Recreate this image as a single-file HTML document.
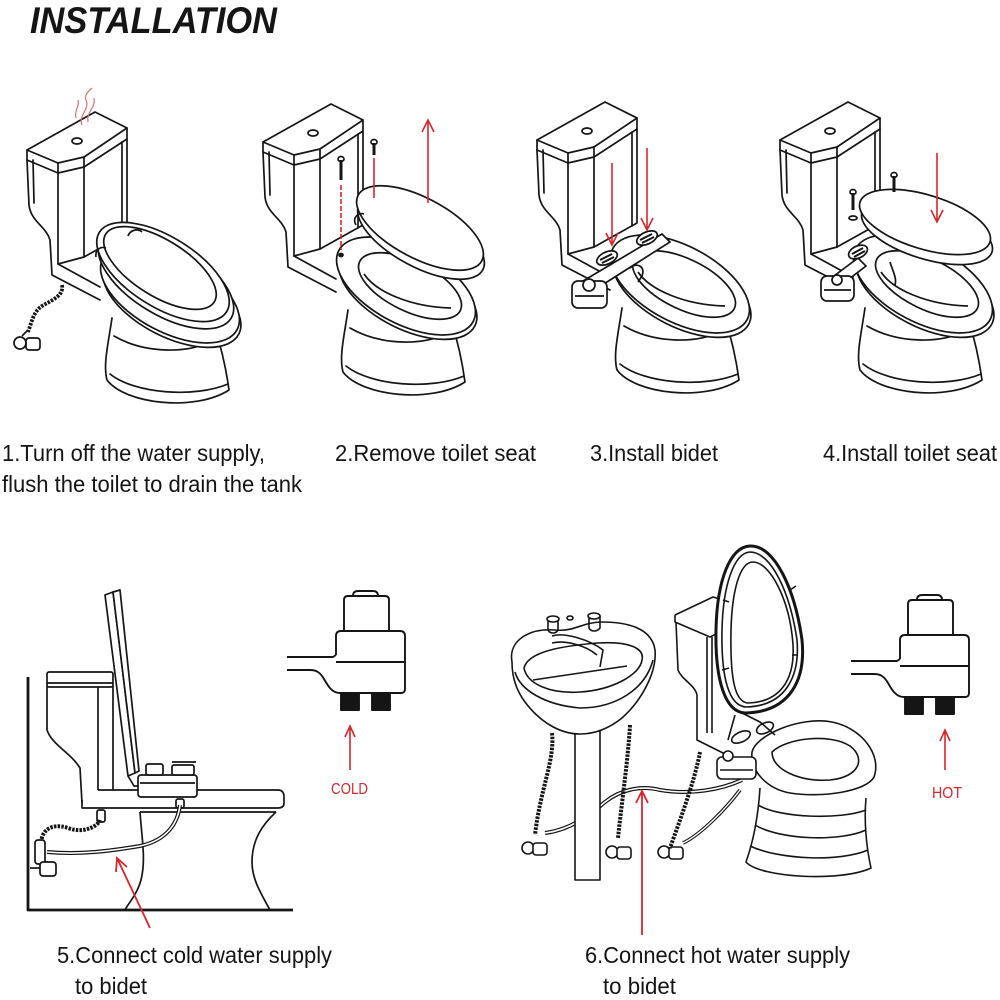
<!DOCTYPE html>
<html><head><meta charset="utf-8">
<style>html,body{margin:0;padding:0;background:#fff}svg{display:block}</style></head>
<body>
<svg width="1000" height="1000" viewBox="0 0 1000 1000" xmlns="http://www.w3.org/2000/svg">
<defs>
<g id="base" fill="none" stroke="#151515" stroke-width="1.7" stroke-linejoin="round" stroke-linecap="round">
  <path d="M112,318 C108,345 103,365 107,380 C125,404 195,412 229,390 C226,368 222,350 215,328" fill="#fff"/>
  <path d="M110,374 C135,394 195,398 228,384"/>
  <path d="M114,336 C145,354 190,354 214,340"/>
  <ellipse cx="172" cy="300" rx="75" ry="37" transform="rotate(27 172 300)" fill="#fff"/>
  <ellipse cx="170" cy="294" rx="76" ry="38" transform="rotate(28 170 294)" fill="#fff"/>
  <path d="M27,160 L29,205 C31,222 46,226 50,240 L52,275 L100,300"/>
  <path d="M33,160 L34,203"/>
  <path d="M58,173 L58,264 L100,287"/>
  <path d="M84,167 L84,257 L58,264"/>
  <path d="M127,139 L127,233 L84,257"/>
  <path d="M122,142 L122,236"/>
  <path d="M27,150 L95,112 L127,128 L84,157 L58,163 Z" fill="#fff"/>
  <path d="M27,150 L27,160 L58,173 L84,167 L127,139 L127,128 M58,163 L58,173 M84,157 L84,167"/>
  <ellipse cx="77" cy="141" rx="5" ry="3"/>
</g>
<g id="openbowl" fill="none" stroke="#151515" stroke-width="1.7">
  <ellipse cx="174" cy="294" rx="56" ry="25" transform="rotate(26 174 294)" fill="#fff"/>
  <path d="M128,282 C140,300 175,315 215,316"/>
</g>
<g id="fixture" fill="none" stroke="#151515" stroke-width="1.9" stroke-linejoin="round">
  <path d="M344,632 L344,600 Q344,596 348,596 L385,596 Q389,596 389,600 L389,632"/>
  <path d="M353,596 Q353,591 358,591 L373,591 Q378,591 378,596"/>
  <path d="M336,655 L336,636 Q336,631 341,631 L400,631 Q405,631 405,636 L405,689 Q405,693 401,693 L340,693 C332,693 328,686 324,679 C320,672 316,670 310,670 L287,670"/>
  <path d="M287,657 L333,657 L336,655"/>
  <path d="M336,662 L405,662"/>
  <rect x="341" y="693" width="18" height="17" fill="#151515"/>
  <rect x="372" y="693" width="18" height="17" fill="#151515"/>
</g>
</defs>

<!-- Title -->
<text x="30" y="33" font-family="Liberation Sans, sans-serif" font-size="37" font-weight="bold" font-style="italic" fill="#151515" textLength="247" lengthAdjust="spacingAndGlyphs">INSTALLATION</text>

<!-- Toilet 1 -->
<use href="#base"/>
<g fill="none" stroke="#151515" stroke-width="1.7">
  <ellipse cx="166" cy="279" rx="76" ry="36" transform="rotate(31 166 279)" fill="#fff"/>
  <ellipse cx="163" cy="272" rx="75" ry="35" transform="rotate(32 163 272)" fill="#fff"/>
  <ellipse cx="160" cy="268" rx="64" ry="28" transform="rotate(32 160 268)"/>
  <path d="M96,257 C95,250 100,246 106,248" />
  <path d="M128,236 C130,230 138,228 142,232"/>
  <path d="M62,285 C64,296 52,300 42,306 C33,312 32,322 28,332" stroke-width="3.8" stroke-dasharray="2.5 1.2"/>
  <circle cx="20" cy="343" r="6"/>
  <rect x="26" y="338" width="14" height="12" rx="3"/>
  <path d="M22,336 L28,330"/>
</g>
<g fill="none" stroke="#e07070" stroke-width="1.2">
  <path d="M82,125 C78,115 90,110 86,100 C84,94 90,90 92,88"/>
  <path d="M88,122 C86,112 96,108 94,98"/>
  <path d="M76,118 C74,110 80,106 78,100"/>
</g>

<!-- Toilet 2 -->
<use href="#base" transform="translate(236,-8)"/>
<use href="#openbowl" transform="translate(236,-8)"/>
<g fill="none" stroke="#151515" stroke-width="1.7">
  <ellipse cx="421" cy="237" rx="70" ry="30" transform="rotate(28 421 237)" fill="#fff"/>
  <ellipse cx="420" cy="228" rx="70" ry="30" transform="rotate(28 420 228)" fill="#fff"/>
  <path d="M356,225 C352,218 358,212 364,214"/>
  <path d="M341,160 L341,180" stroke-width="3"/><ellipse cx="341" cy="159" rx="3" ry="2.5"/>
  <path d="M374,143 L374,155" stroke-width="3"/><ellipse cx="374" cy="142" rx="3" ry="2.5"/>
  <ellipse cx="341" cy="255" rx="2" ry="1.5" fill="#151515"/>
</g>
<g fill="none" stroke="#d8262c" stroke-width="1.6">
  <path d="M341,185 L341,250" stroke-dasharray="5 2"/>
  <path d="M374,158 L374,198"/>
  <path d="M428,203 L428,120 M422,132 L428,120 L434,132"/>
</g>

<!-- Toilet 3 -->
<use href="#base" transform="translate(510,-10)"/>
<use href="#openbowl" transform="translate(510,-10)"/>
<g fill="none" stroke="#151515" stroke-width="1.7">
  <path d="M578,284 L662,234 L670,242 L588,294 Z" fill="#fff"/>
  <ellipse cx="607" cy="258" rx="11" ry="6" transform="rotate(-25 607 258)" fill="#fff"/>
  <path d="M600,260 L612,254 M602,263 L614,257" stroke-width="2"/>
  <ellipse cx="647" cy="238" rx="11" ry="6" transform="rotate(-25 647 238)" fill="#fff"/>
  <path d="M640,240 L652,234 M642,243 L654,237" stroke-width="2"/>
  <path d="M630,268 C636,262 646,266 642,276 L638,282"/>
  <rect x="572" y="281" width="35" height="27" rx="6" fill="#fff"/>
  <path d="M575,296 L604,296"/>
  <circle cx="589" cy="285" r="6" fill="#fff"/>
</g>
<g fill="none" stroke="#d8262c" stroke-width="1.6">
  <path d="M612,163 L612,245 M606,233 L612,245 L618,233"/>
  <path d="M647,148 L647,230 M641,218 L647,230 L653,218"/>
</g>

<!-- Toilet 4 -->
<use href="#base" transform="translate(753,-10)"/>
<use href="#openbowl" transform="translate(753,-10)"/>
<g fill="none" stroke="#151515" stroke-width="1.7">
  <path d="M822,285 L858,258 L866,266 L832,292 Z" fill="#fff"/>
  <ellipse cx="858" cy="252" rx="10" ry="6" transform="rotate(-25 858 252)" fill="#fff"/>
  <path d="M852,254 L863,248 M854,257 L865,251" stroke-width="2"/>
  <ellipse cx="927" cy="232" rx="68" ry="27" transform="rotate(17 927 232)" fill="#fff"/>
  <ellipse cx="925" cy="222" rx="68" ry="27" transform="rotate(17 925 222)" fill="#fff"/>
  <path d="M890,262 C893,272 897,278 895,285"/>
  <rect x="821" y="276" width="33" height="25" rx="6" fill="#fff"/>
  <path d="M824,290 L851,290"/>
  <circle cx="837" cy="280" r="5" fill="#fff"/>
  <path d="M853,193 L853,210" stroke-width="3"/><ellipse cx="853" cy="192" rx="3" ry="2.5"/>
  <path d="M894,176 L894,192" stroke-width="3"/><ellipse cx="894" cy="175" rx="3" ry="2.5"/>
  <ellipse cx="853" cy="218" rx="4" ry="2"/>
</g>
<g fill="none" stroke="#d8262c" stroke-width="1.6">
  <path d="M937,153 L937,222 M931,210 L937,222 L943,210"/>
</g>

<!-- Step labels -->
<g font-family="Liberation Sans Narrow, Liberation Sans, sans-serif" font-size="23" fill="#151515">
  <text x="2" y="461" textLength="263" lengthAdjust="spacingAndGlyphs">1.Turn off the water supply,</text>
  <text x="2" y="492" textLength="300" lengthAdjust="spacingAndGlyphs">flush the toilet to drain the tank</text>
  <text x="335" y="461" textLength="201" lengthAdjust="spacingAndGlyphs">2.Remove toilet seat</text>
  <text x="590" y="461" textLength="128" lengthAdjust="spacingAndGlyphs">3.Install bidet</text>
  <text x="823" y="461" textLength="174" lengthAdjust="spacingAndGlyphs">4.Install toilet seat</text>
  <text x="57" y="963" textLength="275" lengthAdjust="spacingAndGlyphs">5.Connect cold water supply</text>
  <text x="75" y="994" textLength="72" lengthAdjust="spacingAndGlyphs">to bidet</text>
  <text x="585" y="963" textLength="265" lengthAdjust="spacingAndGlyphs">6.Connect hot water supply</text>
  <text x="603" y="994" textLength="73" lengthAdjust="spacingAndGlyphs">to bidet</text>
</g>

<!-- Toilet 5 side view -->
<g fill="none" stroke="#151515" stroke-width="1.7" stroke-linejoin="round">
  <path d="M28,677 L28,910 L293,910" stroke-width="2.8"/>
  <path d="M276,812 C262,825 252,840 252,862 C252,880 262,895 270,910"/>
  <path d="M140,812 C142,840 146,860 141,880 C137,895 127,905 125,910"/>
  <path d="M47,686 L47,730 C52,745 70,752 80,768 L82,803"/>
  <path d="M98,686 L98,790 M113,686 L113,790"/>
  <rect x="47" y="672" width="66" height="15" rx="2" fill="#fff"/>
  <path d="M47,683 L113,683"/>
  <path d="M98,790 L278,790 Q284,790 284,797 L284,803 Q284,808 278,808 L82,808 L82,800"/>
  <path d="M140,812 L276,812"/>
  <path d="M105,595 L113,592 L135,773 L128,776 Z" fill="#fff"/>
  <path d="M113,592 L120,590 L139,771 L135,773 Z" fill="#fff"/>
  <path d="M128,776 L134,786 L140,786"/>
  <rect x="138" y="775" width="59" height="22" rx="3" fill="#fff"/>
  <path d="M140,783 L195,783"/>
  <rect x="146" y="764" width="17" height="11" rx="2" fill="#fff"/>
  <rect x="172" y="765" width="22" height="10" rx="2" fill="#fff"/>
  <path d="M172,762 L196,762"/>
  <rect x="97" y="810" width="8" height="12" rx="2"/>
  <rect x="176" y="799" width="8" height="9" rx="2"/>
  <path d="M42,850 C38,832 50,822 68,828 C84,834 98,826 100,820" stroke-width="4" stroke-dasharray="2.5 1.2"/>
  <path d="M47,852 C80,855 110,851 140,846 C168,840 178,822 180,805" stroke-width="4"/>
  <path d="M47,852 C80,855 110,851 140,846 C168,840 178,822 180,805" stroke="#fff" stroke-width="1.6"/>
  <rect x="35" y="840" width="10" height="24" rx="3" fill="#fff"/>
  <rect x="40" y="862" width="16" height="14" rx="3" fill="#fff"/>
  <path d="M30,868 L40,868"/>
</g>
<g fill="none" stroke="#d8262c" stroke-width="1.8">
  <path d="M150,928 L117,858 M116,872 L117,858 L127,867"/>
</g>

<!-- Cold fixture -->
<use href="#fixture"/>
<path d="M350,770 L350,726 M345,737 L350,726 L355,737" fill="none" stroke="#d8262c" stroke-width="1.6"/>
<text x="331" y="794" font-family="Liberation Sans Narrow, Liberation Sans, sans-serif" font-size="16" fill="#d8262c" textLength="37" lengthAdjust="spacingAndGlyphs">COLD</text>

<!-- Hot fixture -->
<use href="#fixture" transform="translate(564,4)"/>
<path d="M945,770 L945,730 M940,741 L945,730 L950,741" fill="none" stroke="#d8262c" stroke-width="1.6"/>
<text x="932" y="798" font-family="Liberation Sans Narrow, Liberation Sans, sans-serif" font-size="16" fill="#d8262c" textLength="30" lengthAdjust="spacingAndGlyphs">HOT</text>

<!-- Sink -->
<g fill="none" stroke="#151515" stroke-width="1.6" stroke-linejoin="round">
  <path d="M545,833 C570,830 590,815 605,802 C620,790 640,785 660,790 C690,795 720,790 742,780" stroke-width="4"/>
  <path d="M545,833 C570,830 590,815 605,802 C620,790 640,785 660,790 C690,795 720,790 742,780" stroke="#fff" stroke-width="1.6"/>
  <rect x="575" y="731" width="25" height="149" fill="#fff"/>
  <path d="M512,662 C508,640 530,628 555,630 C575,632 582,622 602,622 C627,622 652,628 655,650 C657,672 642,700 622,718 C607,730 592,734 580,734 C560,734 540,722 525,702 C516,690 512,676 512,662 Z" fill="#fff"/>
  <path d="M515,672 C520,690 545,705 580,708 C615,708 645,690 653,660"/>
  <path d="M524,668 C528,652 560,646 598,643 C628,641 645,648 642,660 C640,675 612,690 580,692 C550,694 527,684 524,668 Z"/>
  <path d="M533,680 L627,666"/>
  <path d="M548,619 L548,630 C550,634 556,634 558,630 L558,619"/>
  <ellipse cx="553" cy="619" rx="6" ry="3" fill="#fff"/>
  <path d="M589,616 L589,628 C591,632 597,632 600,628 L600,616"/>
  <ellipse cx="594" cy="616" rx="6" ry="3" fill="#fff"/>
  <ellipse cx="570" cy="618" rx="3" ry="2"/>
  <path d="M552,636 C565,632 590,640 603,650 L600,667 M552,643 C565,640 585,645 597,655"/>
  <path d="M552,733 C555,760 540,790 535,835" stroke-width="4" stroke-dasharray="2.5 1.2"/>
  <path d="M630,725 C628,760 622,800 618,838" stroke-width="4" stroke-dasharray="2.5 1.2"/>
  <circle cx="528" cy="848" r="6" fill="#fff"/><rect x="533" y="843" width="14" height="12" rx="3" fill="#fff"/>
  <circle cx="612" cy="852" r="6" fill="#fff"/><rect x="617" y="847" width="14" height="12" rx="3" fill="#fff"/>
  <circle cx="664" cy="852" r="6" fill="#fff"/><rect x="669" y="847" width="14" height="12" rx="3" fill="#fff"/>
</g>

<!-- Toilet 6 -->
<g fill="none" stroke="#151515" stroke-width="1.6" stroke-linejoin="round">
  <path d="M760,788 C758,820 752,845 746,862 C760,878 842,882 871,868 C866,846 864,820 866,798" fill="#fff"/>
  <path d="M758,805 C780,818 840,820 866,810 M755,825 C780,840 840,842 866,830 M750,846 C780,860 840,862 868,850"/>
  <path d="M752,752 C756,735 800,716 832,722 C862,728 882,755 874,777 C866,792 820,798 790,793 C768,789 750,772 752,752 Z" fill="#fff"/>
  <path d="M772,752 C786,738 830,733 850,746 C866,758 860,777 830,780 C800,782 772,770 772,752 Z"/>
  <path d="M676,622 L678,670 C682,680 695,685 697,695 L697,740 L727,755"/>
  <path d="M707,637 L707,733 M712,637 L712,733"/>
  <path d="M675,615 L713,597 L745,607 M675,615 L675,622 L710,637 L740,622"/>
  <path d="M750,546 C775,545 795,590 802,640 C806,680 790,712 745,713 C725,712 715,680 716,630 C717,580 730,547 750,546 Z" stroke-width="3" fill="#fff"/>
  <path d="M750,552 C771,552 790,592 797,640 C800,676 786,706 746,707 C729,706 721,678 722,630 C723,585 734,553 750,552 Z"/>
  <path d="M753,562 C770,562 790,600 793,645 C795,680 780,702 748,703 C735,702 730,680 731,630 C732,590 740,562 753,562 Z" fill="#fff"/>
  <path d="M723,600 L729,602 M790,590 L796,586 M798,655 L792,655 M722,670 L729,668"/>
  <path d="M740,712 L760,722 L775,735 M735,715 L728,740"/>
  <ellipse cx="741" cy="737" rx="10" ry="5" transform="rotate(-25 741 737)"/>
  <ellipse cx="765" cy="728" rx="9" ry="5" transform="rotate(-25 765 728)"/>
  <rect x="717" y="757" width="39" height="22" rx="5" fill="#fff"/>
  <path d="M720,770 L753,770"/>
  <circle cx="728" cy="756" r="5" fill="#fff"/>
  <path d="M700,752 C695,780 680,820 670,848" stroke-width="4" stroke-dasharray="2.5 1.2"/>
  <path d="M683,843 C700,835 725,810 740,790" stroke-width="3.6"/>
  <path d="M683,843 C700,835 725,810 740,790" stroke="#fff" stroke-width="1.4"/>
</g>
<path d="M642,935 L642,791 M636,803 L642,791 L648,803" fill="none" stroke="#d8262c" stroke-width="1.8"/>
</svg>
</body></html>
